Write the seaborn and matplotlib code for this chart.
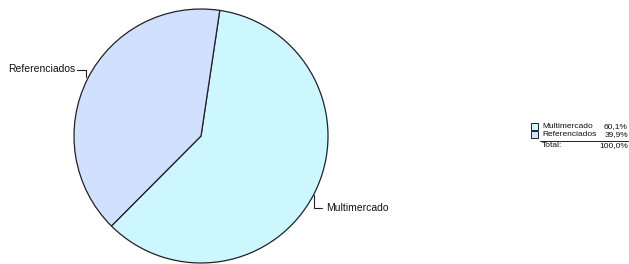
import matplotlib
matplotlib.use("Agg")
import matplotlib.pyplot as plt
import seaborn as sns

categories = ["Multimercado", "Referenciados"]
shares = [60.1, 39.9]
share_labels = ["60,1%", "39,9%"]
total_label = "100,0%"
colors = ["#CCF7FF", "#D1E0FF"]

sns.set_theme(style="white")
plt.rcParams['font.family'] = ['Liberation Sans', 'DejaVu Sans']

W, H = 629, 264
fig = plt.figure(figsize=(W / 100, H / 100), dpi=100)
ax = fig.add_axes([0, 0, 1, 1])
ax.set_xlim(0, W)
ax.set_ylim(0, H)
ax.set_aspect('equal')
ax.axis('off')

def Y(y):
    return H - y

cx, cy, r = 201, 136, 127
ax.pie(shares, colors=colors, startangle=81.5, counterclock=False,
       center=(cx, Y(cy)), radius=r, frame=True,
       wedgeprops=dict(edgecolor="#222222", linewidth=0.9))
ax.set_xlim(0, W)
ax.set_ylim(0, H)
ax.axis('off')

# leader lines and labels
ax.plot([77, 86, 86], [Y(70), Y(70), Y(77)], color="#222222", lw=0.8)
ax.text(75, Y(69), categories[1], ha='right', va='center', fontsize=7.5, color="#111111")
ax.plot([314, 314, 322], [Y(195), Y(208), Y(208)], color="#222222", lw=0.8)
ax.text(326, Y(208), categories[0], ha='left', va='center', fontsize=7.5, color="#111111")

# legend table
fs = 6.0
rows_y = [126.5, 134.5]
for i, (cat, lab) in enumerate(zip(categories, share_labels)):
    ax.add_patch(plt.Rectangle((531, Y(rows_y[i] + 3.5)), 7, 7, facecolor=colors[i],
                               edgecolor="#222222", lw=0.7))
    ax.text(542, Y(rows_y[i]), cat, ha='left', va='center', fontsize=fs, color="#111111")
    ax.text(628, Y(rows_y[i]), lab, ha='right', va='center', fontsize=fs, color="#111111")
ax.plot([540, 628], [Y(140.5), Y(140.5)], color="#222222", lw=0.7)
ax.text(542, Y(145.5), "Total:", ha='left', va='center', fontsize=fs, color="#111111")
ax.text(628, Y(145.5), total_label, ha='right', va='center', fontsize=fs, color="#111111")

fig.savefig("out.png", dpi=100, facecolor="white")
